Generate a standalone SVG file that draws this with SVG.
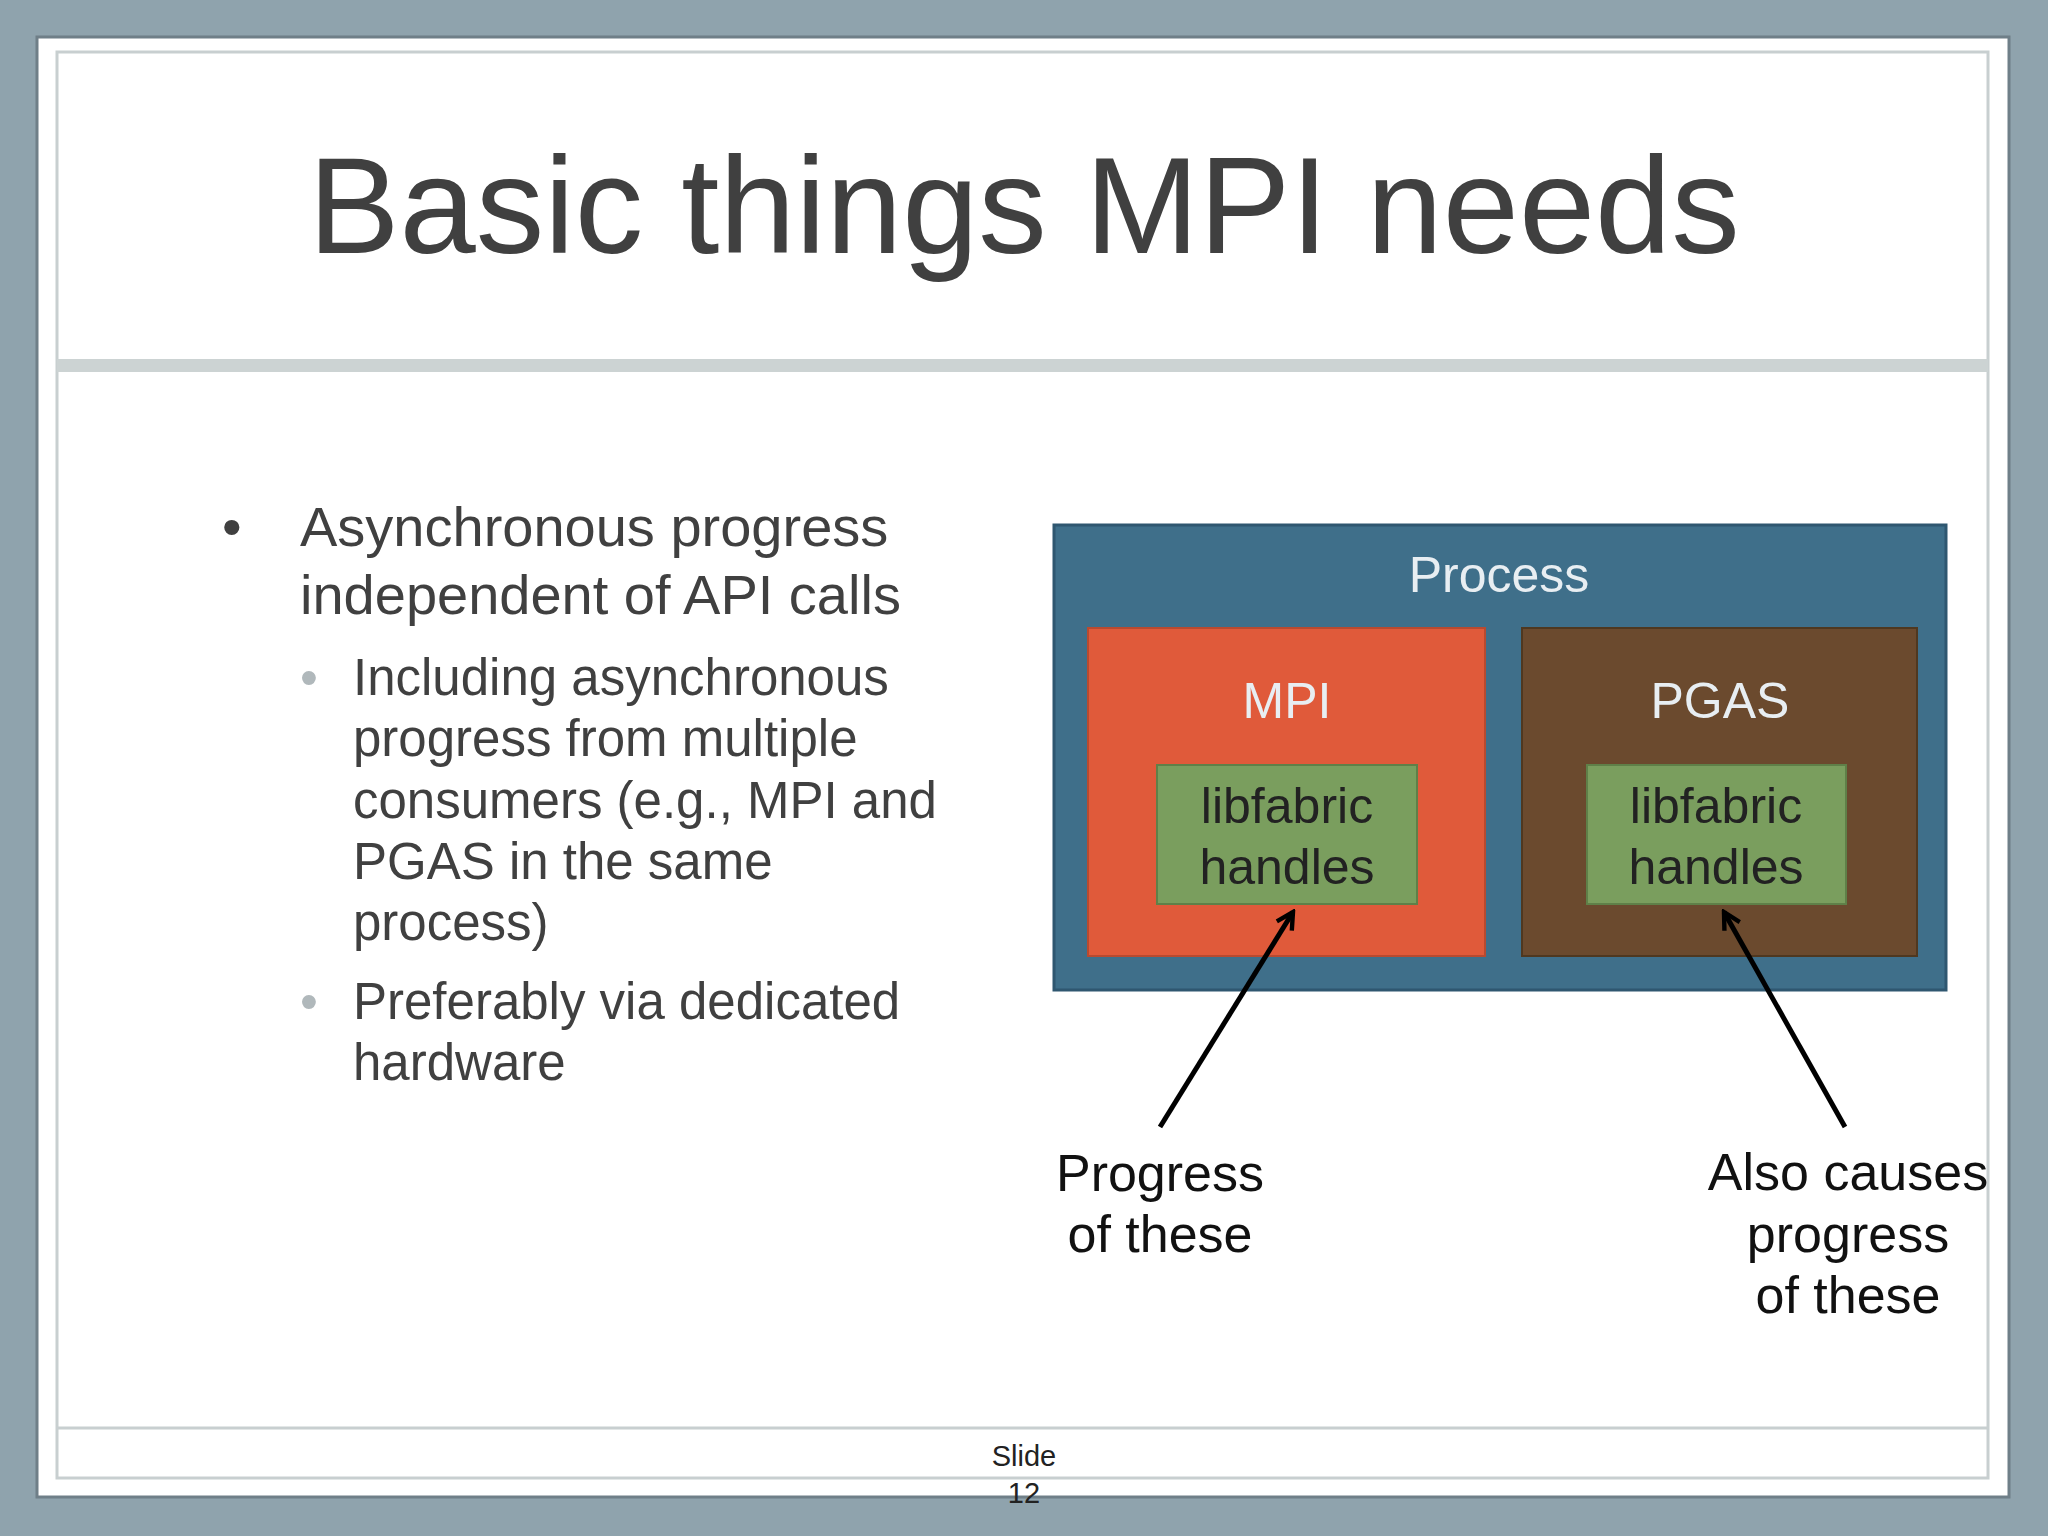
<svg xmlns="http://www.w3.org/2000/svg" width="2048" height="1536" viewBox="0 0 2048 1536">
<defs>
<style>
text{font-family:"Liberation Sans",Arial,sans-serif}
.t{fill:#404040}
.b{font-size:56px;fill:#404040}
.s{font-size:51px;fill:#404040}
.h{font-size:50px;fill:#222;text-anchor:middle}
.l{font-size:52px;fill:#111;text-anchor:middle}
.w{font-size:50px;fill:#e8eef2;text-anchor:middle}
</style>
<marker id="ah" viewBox="0 0 20 20" refX="17" refY="10" markerWidth="22" markerHeight="22" markerUnits="userSpaceOnUse" orient="auto"><path d="M2,2 L17,10 L2,18" fill="none" stroke="#000" stroke-width="4"/></marker>
</defs>
<rect width="2048" height="1536" fill="#8fa3ad"/>
<rect x="37" y="37" width="1972" height="1460" fill="#fff" stroke="#6f7f88" stroke-width="3"/>
<rect x="57" y="52" width="1931" height="1426" fill="none" stroke="#c8cfd0" stroke-width="3"/>
<rect x="57" y="359" width="1931" height="13" fill="#ccd3d3"/>
<line x1="57" y1="1428" x2="1988" y2="1428" stroke="#c8cfd0" stroke-width="3"/>
<text x="1024" y="253" font-size="137" text-anchor="middle" class="t">Basic things MPI needs</text>
<g id="bullets">
<text x="222" y="546" class="b">•</text>
<text x="300" y="546" class="b">Asynchronous progress</text>
<text x="300" y="614" class="b">independent of API calls</text>
<text x="300" y="695" class="s" style="fill:#b0b8bb">•</text>
<text x="353" y="695" class="s">Including asynchronous</text>
<text x="353" y="756" class="s">progress from multiple</text>
<text x="353" y="818" class="s">consumers (e.g., MPI and</text>
<text x="353" y="879" class="s">PGAS in the same</text>
<text x="353" y="940" class="s">process)</text>
<text x="300" y="1019" class="s" style="fill:#b0b8bb">•</text>
<text x="353" y="1019" class="s">Preferably via dedicated</text>
<text x="353" y="1080" class="s">hardware</text>
</g>
<g id="process"><rect x="1054" y="525" width="892" height="465" fill="#3f6f8a" stroke="#2f5770" stroke-width="3"/><text x="1499" y="592" class="w">Process</text></g>
<g id="mpi"><rect x="1088" y="628" width="397" height="328" fill="#e05a3a" stroke="#b84a30" stroke-width="2"/><text x="1287" y="718" class="w">MPI</text></g>
<g id="pgas"><rect x="1522" y="628" width="395" height="328" fill="#6b4a2e" stroke="#4f3820" stroke-width="2"/><text x="1720" y="718" class="w">PGAS</text></g>
<g id="lib1"><rect x="1157" y="765" width="260" height="139" fill="#7a9e5e" stroke="#5f8048" stroke-width="2"/><text x="1287" y="823" class="h">libfabric</text><text x="1287" y="884" class="h">handles</text></g>
<g id="lib2"><rect x="1587" y="765" width="259" height="139" fill="#7a9e5e" stroke="#5f8048" stroke-width="2"/><text x="1716" y="823" class="h">libfabric</text><text x="1716" y="884" class="h">handles</text></g>
<g id="connectors" stroke="#000" stroke-width="5" fill="none">
<line x1="1160" y1="1127" x2="1293" y2="912" marker-end="url(#ah)"/>
<line x1="1845" y1="1127" x2="1724" y2="912" marker-end="url(#ah)"/>
</g>
<g id="label1"><text x="1160" y="1191" class="l">Progress</text><text x="1160" y="1252" class="l">of these</text></g>
<g id="label2"><text x="1848" y="1190" class="l">Also causes</text><text x="1848" y="1252" class="l">progress</text><text x="1848" y="1313" class="l">of these</text></g>
<text x="1024" y="1466" font-size="29" text-anchor="middle" fill="#222">Slide</text>
<text x="1024" y="1503" font-size="29" text-anchor="middle" fill="#222">12</text>
</svg>
